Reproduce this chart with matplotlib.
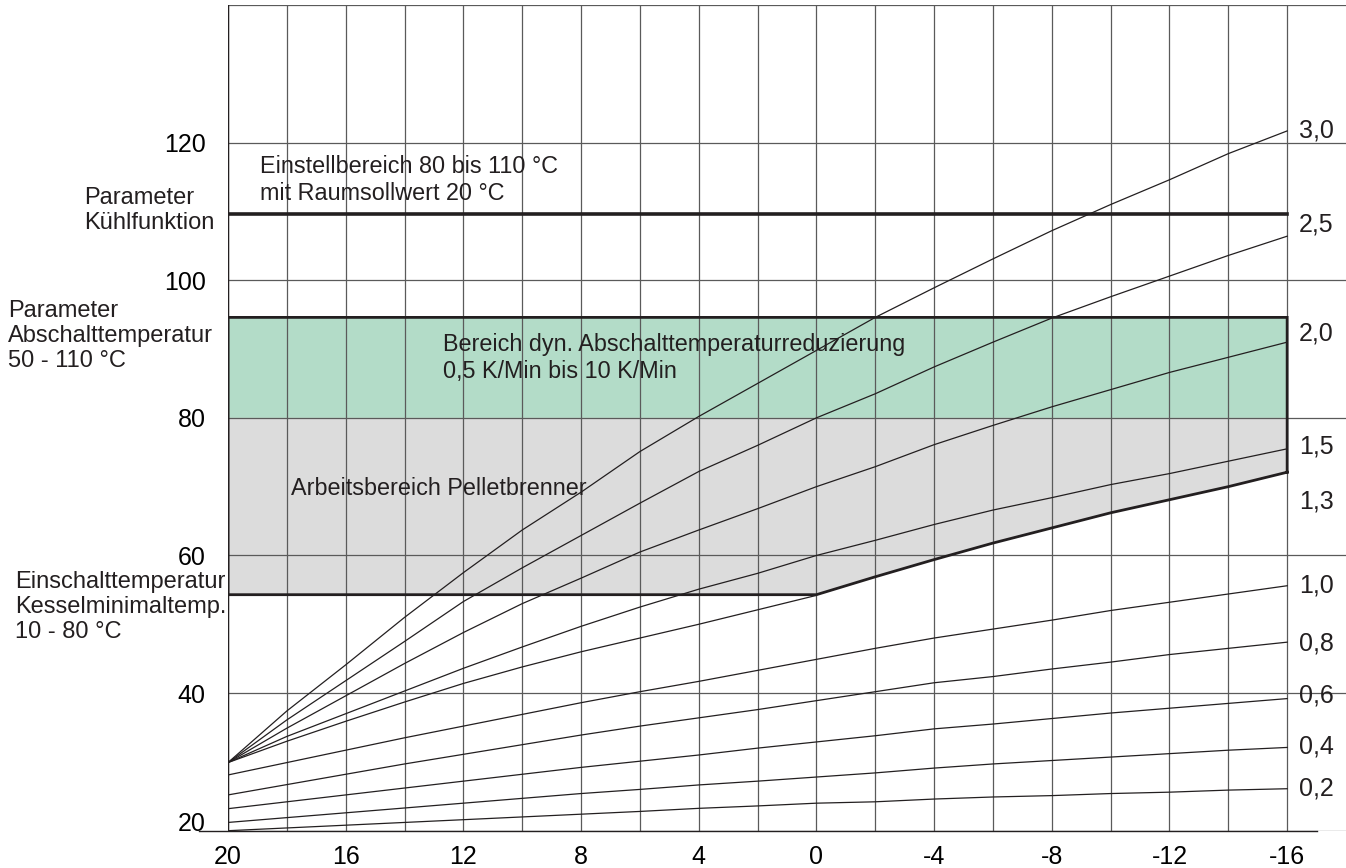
import numpy as np
import matplotlib.pyplot as plt

plt.rcParams['font.family'] = ['Liberation Sans', 'DejaVu Sans']

# Aussentemperatur (°C)
aussen = [20, 18, 16, 14, 12, 10, 8, 6, 4, 2, 0, -2, -4, -6, -8, -10, -12, -14, -16]

# Vorlauftemperatur je Heizkurve
kurve_30 = [29.9, 37.4, 44.1, 51.0, 57.5, 63.7, 69.2, 75.1, 80.2, 85.0, 89.8, 94.6, 98.9, 103.1, 107.2, 111.0, 114.6, 118.4, 121.7]
kurve_25 = [29.9, 36.1, 41.8, 47.5, 53.3, 58.2, 62.9, 67.6, 72.2, 76.0, 80.0, 83.5, 87.4, 91.0, 94.5, 97.6, 100.6, 103.6, 106.4]
kurve_20 = [29.9, 34.9, 39.6, 44.3, 48.8, 53.0, 56.7, 60.5, 63.7, 66.8, 70.0, 72.9, 76.1, 78.9, 81.6, 84.1, 86.6, 88.8, 91.0]
kurve_15 = [29.9, 33.7, 37.0, 40.3, 43.6, 46.7, 49.7, 52.5, 55.1, 57.4, 60.0, 62.2, 64.5, 66.6, 68.4, 70.3, 71.9, 73.7, 75.5]
kurve_13 = [29.9, 33.0, 35.9, 38.7, 41.4, 43.8, 46.0, 48.0, 50.0, 52.1, 54.2, 56.9, 59.4, 61.8, 64.0, 66.2, 68.1, 70.0, 72.1]
kurve_10 = [28.1, 29.9, 31.7, 33.5, 35.2, 36.9, 38.6, 40.2, 41.7, 43.3, 44.9, 46.5, 48.0, 49.3, 50.6, 52.0, 53.2, 54.4, 55.6]
kurve_08 = [25.2, 26.7, 28.2, 29.7, 31.1, 32.5, 33.9, 35.2, 36.4, 37.6, 38.9, 40.2, 41.5, 42.4, 43.5, 44.5, 45.6, 46.5, 47.4]
kurve_06 = [23.2, 24.2, 25.2, 26.2, 27.2, 28.2, 29.2, 30.1, 31.0, 32.0, 32.9, 33.8, 34.8, 35.5, 36.3, 37.1, 37.8, 38.5, 39.2]
kurve_04 = [21.2, 21.9, 22.6, 23.3, 24.0, 24.7, 25.4, 26.0, 26.65, 27.2, 27.8, 28.4, 29.1, 29.7, 30.2, 30.7, 31.2, 31.7, 32.1]
kurve_02 = [20.0, 20.4, 20.8, 21.2, 21.6, 22.0, 22.4, 22.8, 23.25, 23.6, 24.0, 24.2, 24.6, 24.9, 25.1, 25.4, 25.6, 25.9, 26.1]

steigung = ['3,0', '2,5', '2,0', '1,5', '1,3', '1,0', '0,8', '0,6', '0,4', '0,2']

# Bereichsgrenzen (°C)
kuehlfunktion = 109.6
abschalt_oben = 94.6
abschalt_unten = 80
einschalt = 54.3

x_ticks = [20, 16, 12, 8, 4, 0, -4, -8, -12, -16]
y_ticks = [20, 40, 60, 80, 100, 120]

kurven = [kurve_30, kurve_25, kurve_20, kurve_15, kurve_13,
          kurve_10, kurve_08, kurve_06, kurve_04, kurve_02]
# Hoehe der Kurvenbeschriftung rechts
label_y = [121.8, 108.1, 92.3, 75.8, 67.8, 55.6, 47.2, 39.7, 32.2, 26.2]

W, H = 1346, 868
fig = plt.figure(figsize=(W / 100, H / 100), dpi=100)
ax = fig.add_axes([228 / W, 37.3 / H, 1118 / W, 825.7 / H])
ax.set_xlim(20, -18)
ax.set_ylim(20, 140)
for s in ax.spines.values():
    s.set_visible(False)

dark = '#231f20'
gridc = '#5a5a5a'

# Flaechen
ax.fill_between([aussen[0], aussen[-1]], abschalt_unten, abschalt_oben,
                color='#b3dcc8', lw=0, zorder=0.2)
i0 = aussen.index(0)
gx = [aussen[0], 0] + aussen[i0 + 1:] + [aussen[-1], aussen[0]]
gy = [einschalt, einschalt] + kurve_13[i0 + 1:] + [abschalt_unten, abschalt_unten]
ax.fill(gx, gy, color='#dcdcdc', lw=0, zorder=0.2)

# Raster
ax.set_xticks(x_ticks)
ax.set_xticks(np.arange(18, -17, -4), minor=True)
ax.set_yticks(y_ticks)
ax.set_yticks([140], minor=True)
ax.set_axisbelow(True)
ax.grid(which='both', color=gridc, lw=0.9)
ax.tick_params(which='both', length=0)
ax.tick_params(axis='x', labelsize=18, pad=10)
ax.tick_params(axis='y', labelsize=18, pad=16)
ax.set_xticklabels([str(t) for t in x_ticks])
ax.set_yticklabels([str(v) for v in y_ticks])
ax.get_yticklabels()[0].set_va('baseline')

# Achsen
ax.plot([20, 20], [20, 140], color=dark, lw=1.0, zorder=2)
ax.plot([21, -17], [20, 20], color=dark, lw=1.0, clip_on=False, zorder=2)

# Heizkurven
for k in kurven:
    if k is kurve_13:
        ax.plot(aussen[:i0 + 1], k[:i0 + 1], color=dark, lw=0.9, zorder=3)
    else:
        ax.plot(aussen, k, color=dark, lw=0.9, zorder=3)

# dicke Begrenzungen
bx = [aussen[-1], aussen[-1], aussen[0], aussen[0], 0] + aussen[i0 + 1:]
by = [kurve_13[-1], abschalt_oben, abschalt_oben, einschalt, einschalt] + kurve_13[i0 + 1:]
ax.plot(bx, by, color=dark, lw=2.0, zorder=4, solid_joinstyle='miter')
ax.plot([aussen[0], aussen[-1]], [kuehlfunktion, kuehlfunktion], color=dark, lw=2.6, zorder=4)

# Beschriftungen
for lab, yy in zip(steigung, label_y):
    ax.text(-16.4, yy, lab, fontsize=18, ha='left', va='center', color=dark)

ax.text(18.91, 114.6, 'Einstellbereich 80 bis 110 °C\nmit Raumsollwert 20 °C',
        fontsize=16.8, ha='left', va='center', linespacing=1.2, color=dark, zorder=5)
ax.text(12.69, 88.7, 'Bereich dyn. Abschalttemperaturreduzierung\n0,5 K/Min bis 10 K/Min',
        fontsize=16.8, ha='left', va='center', linespacing=1.2, color=dark, zorder=5)
ax.text(17.86, 69.8, 'Arbeitsbereich Pelletbrenner',
        fontsize=16.8, ha='left', va='center', color=dark, zorder=5)

fig.text(84 / W, 1 - 210.3 / H, 'Parameter\nKühlfunktion',
         fontsize=17, ha='left', va='center', linespacing=1.18, color=dark)
fig.text(8 / W, 1 - 336 / H, 'Parameter\nAbschalttemperatur\n50 - 110 °C',
         fontsize=17, ha='left', va='center', linespacing=1.18, color=dark)
fig.text(14.7 / W, 1 - 606.7 / H, 'Einschalttemperatur\nKesselminimaltemp.\n10 - 80 °C',
         fontsize=17, ha='left', va='center', linespacing=1.18, color=dark)

fig.savefig('out.png', dpi=100)
